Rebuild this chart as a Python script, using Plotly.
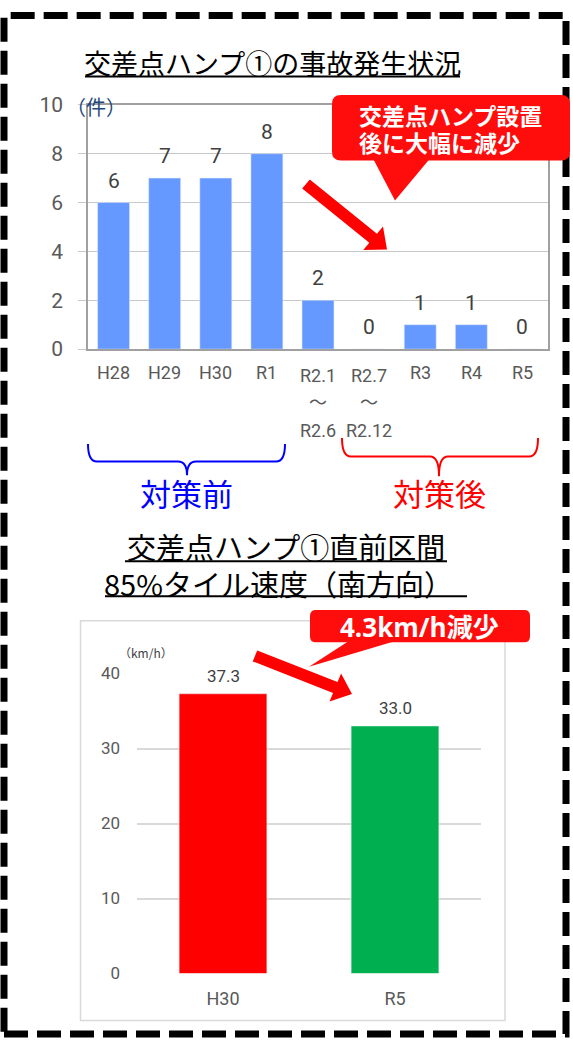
import plotly.graph_objects as go

W, H = 573, 1050

# ---------------- data ----------------
periods = ["H28", "H29", "H30", "R1", "R2.1\n～\nR2.6", "R2.7\n～\nR2.12", "R3", "R4", "R5"]
accidents = [6, 7, 7, 8, 2, 0, 1, 1, 0]
acc_ticks = [0, 2, 4, 6, 8, 10]

speed_years = ["H30", "R5"]
speed_values = [37.3, 33.0]
speed_colors = ["#FF0000", "#00B050"]
speed_ticks = [0, 10, 20, 30, 40]

title1 = "交差点ハンプ①の事故発生状況"
title2 = ["交差点ハンプ①直前区間", "85%タイル速度（南方向）"]
callout1 = ["交差点ハンプ設置", "後に大幅に減少"]
callout2 = "4.3km/h減少"
before_label = "対策前"
after_label = "対策後"

CJK = "Noto Sans CJK JP"
NUM = "Roboto, Noto Sans CJK JP"


def px(x):
    return x / W


def py(y):
    return 1 - y / H


def P(x, y):
    return f"{px(x):.5f},{py(y):.5f}"


def path(cmds):
    out = []
    for c in cmds:
        if isinstance(c, str):
            out.append(c)
        else:
            out.append(P(*c))
    return " ".join(out)


def arrow_path(x0, y0, x1, y1, sw, hw, hl):
    import math
    dx, dy = x1 - x0, y1 - y0
    L = math.hypot(dx, dy)
    ux, uy = dx / L, dy / L
    nx, ny = -uy, ux
    bx, by = x1 - ux * hl, y1 - uy * hl
    pts = [
        (x0 + nx * sw / 2, y0 + ny * sw / 2),
        (bx + nx * sw / 2, by + ny * sw / 2),
        (bx + nx * hw / 2, by + ny * hw / 2),
        (x1, y1),
        (bx - nx * hw / 2, by - ny * hw / 2),
        (bx - nx * sw / 2, by - ny * sw / 2),
        (x0 - nx * sw / 2, y0 - ny * sw / 2),
    ]
    s = "M " + P(*pts[0])
    for p in pts[1:]:
        s += " L " + P(*p)
    return s + " Z"


def rounded_rect(x0, y0, x1, y1, r):
    return path([
        "M", (x0 + r, y0), "L", (x1 - r, y0), "Q", (x1, y0), (x1, y0 + r),
        "L", (x1, y1 - r), "Q", (x1, y1), (x1 - r, y1),
        "L", (x0 + r, y1), "Q", (x0, y1), (x0, y1 - r),
        "L", (x0, y0 + r), "Q", (x0, y0), (x0 + r, y0), "Z",
    ])


def label(x, y, text, size, color, family=CJK, xanchor="center", align="center"):
    return dict(x=px(x), y=py(y), xref="paper", yref="paper", text=text, showarrow=False,
                xanchor=xanchor, yanchor="middle", align=align,
                font=dict(family=family, size=size, color=color))


fig = go.Figure()

fig.add_trace(go.Bar(
    x=periods, y=accidents, marker_color="#6699FF", width=0.625,
    xaxis="x", yaxis="y", hoverinfo="skip",
))
fig.add_trace(go.Bar(
    x=speed_years, y=speed_values, marker_color=speed_colors, width=0.51,
    xaxis="x2", yaxis="y2", hoverinfo="skip",
))

annotations = []
# top chart value labels
for c, v in zip(periods, accidents):
    annotations.append(dict(x=c, y=v, xref="x", yref="y", yshift=22, text=str(v),
                            xanchor="center", yanchor="middle",
                            showarrow=False, font=dict(family=NUM, size=21, color="#404040")))
# top chart category labels (multi-line with wide spacing)
for c in periods:
    lines = c.split("\n")
    ys = [369] if len(lines) == 1 else [372, 400, 428]
    for t, yy in zip(lines, ys):
        annotations.append(dict(x=c, y=py(yy), xref="x", yref="paper", text=t, showarrow=False,
                                xanchor="center", yanchor="middle",
                                font=dict(family=NUM, size=18, color="#595959")))
# bottom chart value labels
for c, v in zip(speed_years, speed_values):
    annotations.append(dict(x=c, y=v, xref="x2", yref="y2", yshift=18, text=f"{v:.1f}",
                            xanchor="center", yanchor="middle",
                            showarrow=False, font=dict(family=NUM, size=17, color="#404040")))

annotations += [
    label(272.5, 52, title1, 27, "black"),
    label(286, 547, title2[0], 29, "black"),
    label(278.5, 584, title2[1], 29, "black"),
    label(96, 97, "（件）", 20, "#1F497D"),
    label(146, 655, "（km/h）", 12, "#404040"),
    label(186, 492, before_label, 31, "#0000FF"),
    label(439, 492, after_label, 31, "#FF0000"),
    label(357, 105, "<b>" + callout1[0] + "</b>", 23, "white", xanchor="left"),
    label(357, 133, "<b>" + callout1[1] + "</b>", 23, "white", xanchor="left"),
    label(419, 629, "<b>" + callout2 + "</b>", 26, "white", family="Open Sans, Noto Sans CJK JP"),
]

shapes = []
# outer dashed frame
shapes.append(dict(type="rect", xref="paper", yref="paper", x0=px(4), x1=px(566),
                   y0=py(1046), y1=py(3.5), line=dict(color="black", width=7, dash="24px,9px"),
                   layer="above"))
# bottom chart frame
shapes.append(dict(type="rect", xref="paper", yref="paper", x0=px(80.5), x1=px(505),
                   y0=py(1032), y1=py(623), line=dict(color="#D9D9D9", width=1.5), layer="below"))
# title underlines
for (xa, xb, yy) in [(85, 460, 66), (125, 447, 562), (105, 467, 598)]:
    shapes.append(dict(type="line", xref="paper", yref="paper", x0=px(xa), x1=px(xb),
                       y0=py(yy), y1=py(yy), line=dict(color="black", width=2)))
# braces
shapes.append(dict(type="path", xref="paper", yref="paper", line=dict(color="#0000FF", width=2),
                   path=path(["M", (88, 442), "Q", (88, 460), (97, 460), "L", (178, 460),
                              "Q", (187, 460), (187, 474), "Q", (187, 460), (196, 460),
                              "L", (276, 460), "Q", (285, 460), (285, 442)])))
shapes.append(dict(type="path", xref="paper", yref="paper", line=dict(color="#FF0000", width=2),
                   path=path(["M", (342, 436), "Q", (342, 455), (351, 455), "L", (430, 455),
                              "Q", (439, 455), (439, 475), "Q", (439, 455), (448, 455),
                              "L", (529, 455), "Q", (538, 455), (538, 436)])))
# callout 1
shapes.append(dict(type="path", xref="paper", yref="paper", fillcolor="#FF0D0D",
                   line=dict(width=0), layer="above", path=rounded_rect(332, 85, 570, 152, 9)))
shapes.append(dict(type="path", xref="paper", yref="paper", fillcolor="#FF0D0D",
                   line=dict(width=0), layer="above",
                   path=path(["M", (373, 150), "L", (395, 193), "L", (430, 150), "Z"])))
# callout 2
shapes.append(dict(type="path", xref="paper", yref="paper", fillcolor="#FF0D0D",
                   line=dict(width=0), layer="above", path=rounded_rect(310, 612, 530, 645, 6)))
shapes.append(dict(type="path", xref="paper", yref="paper", fillcolor="#FF0D0D",
                   line=dict(width=0), layer="above",
                   path=path(["M", (350, 643), "L", (309, 670), "L", (398, 643), "Z"])))
# arrows
shapes.append(dict(type="path", xref="paper", yref="paper", fillcolor="#FF0000",
                   line=dict(width=0), layer="above",
                   path=arrow_path(306, 176, 387, 243, 12, 31, 18)))
shapes.append(dict(type="path", xref="paper", yref="paper", fillcolor="#FF0000",
                   line=dict(width=0), layer="above",
                   path=arrow_path(255, 659, 352, 698, 12, 31, 18)))

fig.update_layout(
    width=W, height=H, margin=dict(l=0, r=0, t=0, b=0, pad=0),
    paper_bgcolor="white", plot_bgcolor="white", showlegend=False,
    annotations=annotations, shapes=shapes,
    xaxis=dict(domain=[px(88), px(548)], anchor="y", showticklabels=False, showgrid=False,
               showline=True, mirror=True, linecolor="#A0A0A0", linewidth=1.5,
               zeroline=False, fixedrange=True),
    yaxis=dict(domain=[py(345), py(95)], anchor="x", range=[0, 10], tickvals=acc_ticks,
               gridcolor="#C8C8C8", gridwidth=1, showline=True, mirror=True,
               linecolor="#A0A0A0", linewidth=1.5, ticks="outside", ticklen=8,
               tickcolor="#C8C8C8", ticklabelstandoff=11, zeroline=False,
               tickfont=dict(family=NUM, size=21, color="#595959"), fixedrange=True),
    xaxis2=dict(domain=[px(137), px(481)], anchor="y2", showgrid=False, showline=False,
                zeroline=False, ticks="", ticklabelstandoff=12,
                tickfont=dict(family=NUM, size=18, color="#595959"), fixedrange=True),
    yaxis2=dict(domain=[py(984), py(677)], anchor="x2", range=[0, 40], tickvals=speed_ticks,
                gridcolor="#D9D9D9", gridwidth=1.5, showline=False, zeroline=False,
                ticks="", ticklabelstandoff=16,
                tickfont=dict(family=NUM, size=17, color="#595959"), fixedrange=True),
    bargap=0.3,
)

fig.write_html(
    "out.html",
    config={"displayModeBar": False},
    post_script=(
        "document.documentElement.style.margin='0';document.body.style.margin='0';"
        "document.documentElement.style.overflow='hidden';document.body.style.overflow='hidden';"
    ),
)
